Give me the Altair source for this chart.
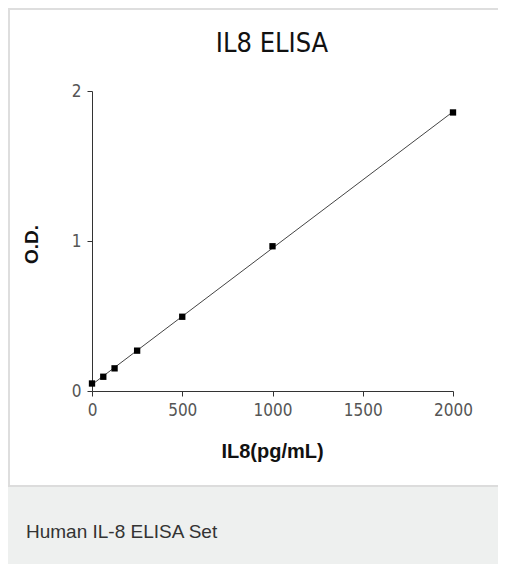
import altair as alt
import pandas as pd

# Standard curve values
conc = [0, 62.5, 125, 250, 500, 1000, 2000]
od = [0.050, 0.095, 0.151, 0.269, 0.495, 0.965, 1.857]

x_ticks = [0, 500, 1000, 1500, 2000]
y_tick_count = 2  # gives ticks 0, 1, 2

title_text = "IL8 ELISA"
x_title = "IL8(pg/mL)"
y_title = "O.D."
caption = "Human IL-8 ELISA Set"

df = pd.DataFrame({"conc": conc, "od": od})
one = alt.Data(values=[{"k": 1}])

NARROW = "DejaVu Sans Condensed, Liberation Sans Narrow, Arial Narrow, sans-serif"
SANS = "Liberation Sans, Arial, Helvetica, sans-serif"

W, H = 361, 300
RIGHT = 490 - 84 - W
BOTTOM = 556 - 83 - H

xscale = alt.Scale(domain=[0, 2000], nice=False, zero=False)
yscale = alt.Scale(domain=[0, 2], nice=False, zero=False)

xaxis = alt.Axis(
    values=x_ticks, title=x_title, grid=False, format="d",
    labelOverlap=False, labelFlush=False,
    domainColor="#333", tickColor="#333", tickSize=5,
    labelFont=NARROW, labelFontSize=17, labelColor="#555", labelPadding=6,
    titleFont=SANS, titleFontSize=20, titleFontWeight="bold", titleColor="#111",
    titleX=180, titleY=66, titleBaseline="alphabetic", titleAnchor="middle",
)
yaxis = alt.Axis(
    tickCount=y_tick_count, title=y_title, grid=False, format="d",
    labelOverlap=False, labelFlush=False,
    domainColor="#333", tickColor="#333", tickSize=5,
    labelFont=NARROW, labelFontSize=17, labelColor="#555", labelPadding=6,
    titleFont=SANS, titleFontSize=19, titleFontWeight="bold", titleColor="#111",
    titleAngle=270, titleX=-61, titleY=153, titleBaseline="middle", titleAnchor="middle",
)

# card decorations (outside plot area)
top_border = alt.Chart(one).mark_rect(color="#dedede").encode(
    x=alt.value(-84), x2=alt.value(W + RIGHT), y=alt.value(-83), y2=alt.value(-81))
left_border = alt.Chart(one).mark_rect(color="#dedede").encode(
    x=alt.value(-84), x2=alt.value(-82), y=alt.value(-83), y2=alt.value(396))
footer = alt.Chart(one).mark_rect(color="#eef0ef").encode(
    x=alt.value(-84), x2=alt.value(W + RIGHT), y=alt.value(395), y2=alt.value(H + BOTTOM))
footer_line = alt.Chart(one).mark_rect(color="#dcdcdc").encode(
    x=alt.value(-84), x2=alt.value(W + RIGHT), y=alt.value(394), y2=alt.value(396))

title = alt.Chart(one).mark_text(
    font=NARROW, fontSize=27, color="#111", align="center", baseline="alphabetic"
).encode(x=alt.value(180), y=alt.value(-39), text=alt.value(title_text))

cap = alt.Chart(one).mark_text(
    font=SANS, fontSize=19, color="#333", align="left", baseline="alphabetic"
).encode(x=alt.value(-66), y=alt.value(447), text=alt.value(caption))

base = alt.Chart(df)

fit = base.transform_regression("conc", "od", method="linear").mark_line(
    color="#444", strokeWidth=1
).encode(
    x=alt.X("conc:Q", scale=xscale, axis=xaxis),
    y=alt.Y("od:Q", scale=yscale, axis=yaxis),
)

pts = base.mark_square(color="#000", size=40, opacity=1).encode(
    x=alt.X("conc:Q", scale=xscale, axis=xaxis),
    y=alt.Y("od:Q", scale=yscale, axis=yaxis),
)

chart = alt.layer(
    top_border, left_border, footer, footer_line, title, cap, fit, pts
).properties(
    width=W, height=H,
    background="white",
    autosize=alt.AutoSizeParams(type="none"),
    padding={"left": 84, "top": 83, "right": RIGHT, "bottom": BOTTOM},
).configure_view(stroke=None).configure_axis(grid=False)

chart.save("out.html", embed_options={"renderer": "svg", "actions": False})
